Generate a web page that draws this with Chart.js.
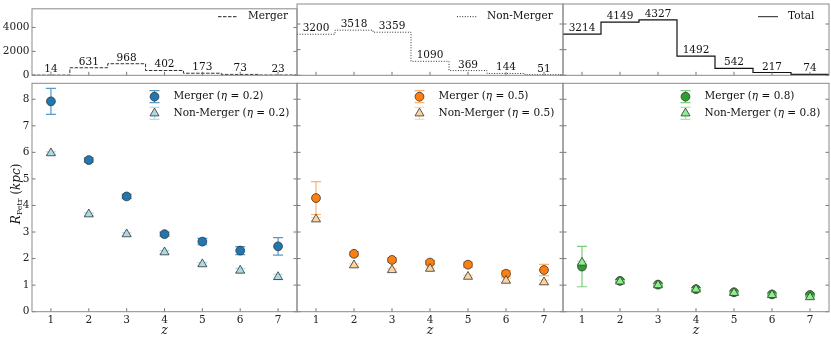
<!DOCTYPE html>
<html><head><meta charset="utf-8">
<script src="https://cdn.jsdelivr.net/npm/chart.js@4.4.0/dist/chart.umd.min.js"></script>
<style>
html,body{margin:0;padding:0;background:#fff;}
#wrap{position:relative;width:831px;height:341px;background:#fff;}
canvas{position:absolute;left:0;top:0;}
</style></head><body><div id="wrap"></div>
<script>
// ---------- data ----------
const zValues=[1,2,3,4,5,6,7];
const mergerCounts=[14,631,968,402,173,73,23];
const nonMergerCounts=[3200,3518,3359,1090,369,144,51];
const totalCounts=[3214,4149,4327,1492,542,217,74];
const countTicks=[0,2000,4000];
const radiusTicks=[0,1,2,3,4,5,6,7,8];
const histLabels=['Merger','Non-Merger','Total'];
const etaValues=['0.2','0.5','0.8'];

const mergerR02=[7.92,5.71,4.34,2.92,2.64,2.30,2.46];
const mergerErr02=[0.49,0.08,0.08,0.08,0.12,0.15,0.33];
const nonMergerR02=[5.97,3.67,2.92,2.24,1.79,1.55,1.31];
const nonMergerErr02=[0.05,0.05,0.05,0.06,0.06,0.08,0.10];

const mergerR05=[4.28,2.18,1.95,1.85,1.77,1.43,1.57];
const mergerErr05=[0.62,0.08,0.08,0.08,0.10,0.12,0.21];
const nonMergerR05=[3.48,1.75,1.57,1.62,1.32,1.17,1.11];
const nonMergerErr05=[0.06,0.05,0.05,0.05,0.06,0.07,0.08];

const mergerR08=[1.70,1.16,1.02,0.85,0.73,0.65,0.63];
const mergerErr08=[0.76,0.05,0.05,0.05,0.05,0.05,0.06];
const nonMergerR08=[1.85,1.14,1.00,0.84,0.71,0.63,0.55];
const nonMergerErr08=[0.05,0.03,0.03,0.03,0.03,0.03,0.04];

// ---------- layout / style ----------
const W=831,H=341;
const colLeft=[32,297,563], colRight=[297,563,829];
const topRow={top:4,bottom:75.3}, botRow={top:83.3,bottom:311.7};
const FONT='DejaVu Serif';
const FS=10.5;
const mainColors=['#1f77b4','#ff7f0e','#2ca02c'];
const lightColors=['#add8e6','#fdd5a2','#90ee90'];
const errMainColors=['rgba(31,119,180,0.75)','rgba(255,127,14,0.6)','rgba(110,200,110,0.9)'];
const errLightColors=['rgba(173,216,230,0.9)','rgba(253,213,162,0.9)','rgba(144,238,144,0.9)'];
const histDash=[[3.5,1.5],[1,1.6],[]];

const wrap=document.getElementById('wrap');
function newCanvas(){const c=document.createElement('canvas');c.width=W;c.height=H;c.style.width=W+'px';c.style.height=H+'px';wrap.appendChild(c);return c;}

function drawParts(ctx,parts,x,y,align){
  let total=0;
  parts.forEach(p=>{ctx.font=(p.italic?'italic ':'')+(p.size||FS)+'px "'+FONT+'"';p.w=ctx.measureText(p.t).width;total+=p.w;});
  let cx=align==='center'?x-total/2:x;
  ctx.textAlign='left';
  parts.forEach(p=>{ctx.font=(p.italic?'italic ':'')+(p.size||FS)+'px "'+FONT+'"';ctx.fillText(p.t,cx,y+(p.dy||0));cx+=p.w;});
}

function baseOptions(col,row,xLabels,yLabels,yMin,yMax,yTickVals){
  const yW=yLabels?colLeft[col]:0;
  const xH=xLabels?H-row.bottom:0;
  return {
    responsive:false,animation:false,devicePixelRatio:1,events:[],
    layout:{autoPadding:false,padding:{left:colLeft[col]-yW,right:W-colRight[col],top:row.top,bottom:H-row.bottom-xH}},
    plugins:{legend:{display:false},tooltip:{enabled:false}},
    scales:{
      x:{type:'linear',min:0.5,max:7.5,grid:{display:false,drawTicks:false},border:{display:false},
        ticks:{display:xLabels,font:{family:FONT,size:FS},color:'#222',padding:2,maxRotation:0,autoSkip:false,callback:v=>String(v)},
        afterBuildTicks:s=>{s.ticks=zValues.map(v=>({value:v}));},
        afterFit:s=>{s.height=xH;}},
      y:{type:'linear',min:yMin,max:yMax,grid:{display:false,drawTicks:false},border:{display:false},
        ticks:{display:yLabels,font:{family:FONT,size:FS},color:'#222',padding:2.5,autoSkip:false,callback:v=>String(v)},
        afterBuildTicks:s=>{s.ticks=yTickVals.map(v=>({value:v}));},
        afterFit:s=>{s.width=yW;}}
    }
  };
}

const framePlugin={id:'frame',afterDatasetsDraw(chart){
  const ctx=chart.ctx,ca=chart.chartArea,xs=chart.scales.x,ys=chart.scales.y;
  ctx.save();
  ctx.strokeStyle='#555';ctx.lineWidth=0.8;ctx.beginPath();
  xs.ticks.forEach(t=>{const px=xs.getPixelForValue(t.value);ctx.moveTo(px,ca.bottom);ctx.lineTo(px,ca.bottom-3.5);});
  ys.ticks.forEach(t=>{const py=ys.getPixelForValue(t.value);ctx.moveTo(ca.left,py);ctx.lineTo(ca.left+3.5,py);ctx.moveTo(ca.right,py);ctx.lineTo(ca.right-3.5,py);});
  ctx.stroke();
  ctx.strokeStyle='#8a8a8a';ctx.lineWidth=1;
  ctx.strokeRect(ca.left,ca.top,ca.right-ca.left,ca.bottom-ca.top);
  ctx.restore();
}};

// ---------- top histograms ----------
const histSets=[mergerCounts,nonMergerCounts,totalCounts];
const histLegendTextX=[248,487,788];
histSets.forEach((counts,col)=>{
  const data=zValues.map((z,i)=>({x:z-0.5,y:counts[i]})).concat([{x:zValues[zValues.length-1]+0.5,y:counts[counts.length-1]}]);
  const opts=baseOptions(col,topRow,false,col===0,0,5560,countTicks);
  const annot={id:'annot'+col,afterDatasetsDraw(chart){
    const ctx=chart.ctx,xs=chart.scales.x,ys=chart.scales.y;
    ctx.save();ctx.fillStyle='#111';ctx.font=FS+'px "'+FONT+'"';ctx.textAlign='center';ctx.textBaseline='alphabetic';
    counts.forEach((c,i)=>{ctx.fillText(String(c),xs.getPixelForValue(zValues[i]),ys.getPixelForValue(c)-3);});
    // legend
    const tx=histLegendTextX[col],ty=16.7;
    ctx.strokeStyle='#222';ctx.lineWidth=1;ctx.setLineDash(histDash[col]);
    ctx.beginPath();ctx.moveTo(tx-30,ty);ctx.lineTo(tx-10,ty);ctx.stroke();ctx.setLineDash([]);
    ctx.textAlign='left';ctx.textBaseline='middle';ctx.fillText(histLabels[col],tx,ty);
    ctx.restore();
  }};
  new Chart(newCanvas(),{type:'line',data:{datasets:[{data,stepped:'before',borderColor:col===2?'#111':'#333',borderWidth:col===2?1.2:1,
    borderDash:histDash[col],pointRadius:0,fill:false}]},options:opts,plugins:[framePlugin,annot]});
});

// ---------- bottom scatter panels ----------
const mergerR=[mergerR02,mergerR05,mergerR08], mergerErr=[mergerErr02,mergerErr05,mergerErr08];
const nonMergerR=[nonMergerR02,nonMergerR05,nonMergerR08], nonMergerErr=[nonMergerErr02,nonMergerErr05,nonMergerErr08];

function drawMarker(ctx,style,x,y,r,fill){
  ctx.beginPath();
  if(style==='circle'){ctx.arc(x,y,r,0,Math.PI*2);}
  else{for(let k=0;k<3;k++){const a=k*2*Math.PI/3;const px=x+Math.sin(a)*r,py=y-Math.cos(a)*r;k?ctx.lineTo(px,py):ctx.moveTo(px,py);}ctx.closePath();}
  ctx.fillStyle=fill;ctx.fill();ctx.strokeStyle='#333';ctx.lineWidth=0.8;ctx.stroke();
}

const errPlugin={id:'err',beforeDatasetDraw(chart,args){
  const ds=chart.data.datasets[args.index];if(!ds.errors)return;
  const ctx=chart.ctx,xs=chart.scales.x,ys=chart.scales.y;
  ctx.save();ctx.strokeStyle=ds.errColor;ctx.lineWidth=1.2;ctx.beginPath();
  ds.data.forEach((p,i)=>{const px=xs.getPixelForValue(p.x),y1=ys.getPixelForValue(p.y+ds.errors[i]),y2=ys.getPixelForValue(p.y-ds.errors[i]);
    ctx.moveTo(px,y1);ctx.lineTo(px,y2);ctx.moveTo(px-5,y1);ctx.lineTo(px+5,y1);ctx.moveTo(px-5,y2);ctx.lineTo(px+5,y2);});
  ctx.stroke();ctx.restore();
}};

[0,1,2].forEach(col=>{
  const opts=baseOptions(col,botRow,true,col===0,0,8.6,radiusTicks);
  const datasets=[
    {label:'Merger',data:zValues.map((z,i)=>({x:z,y:mergerR[col][i]})),errors:mergerErr[col],errColor:errMainColors[col],
     pointStyle:'circle',pointRadius:4.4,backgroundColor:mainColors[col],borderColor:'#333',borderWidth:0.8,showLine:false,order:2},
    {label:'Non-Merger',data:zValues.map((z,i)=>({x:z,y:nonMergerR[col][i]})),errors:nonMergerErr[col],errColor:errLightColors[col],
     pointStyle:'triangle',pointRadius:5.2,backgroundColor:lightColors[col],borderColor:'#333',borderWidth:0.8,showLine:false,order:1}
  ];
  const extra={id:'extra'+col,afterDraw(chart){
    const ctx=chart.ctx,ca=chart.chartArea;
    ctx.save();ctx.fillStyle='#111';ctx.textBaseline='middle';
    const tx=ca.left+141.5, mx=tx-19, ys=[96.7,113.3];
    datasets.forEach((ds,k)=>{
      const y=ys[k];
      ctx.strokeStyle=ds.errColor;ctx.lineWidth=1.2;ctx.beginPath();
      ctx.moveTo(mx,y-6);ctx.lineTo(mx,y+6);ctx.moveTo(mx-5,y-6);ctx.lineTo(mx+5,y-6);ctx.moveTo(mx-5,y+6);ctx.lineTo(mx+5,y+6);ctx.stroke();
      drawMarker(ctx,ds.pointStyle,mx,y,ds.pointRadius,ds.backgroundColor);
      ctx.fillStyle='#111';
      drawParts(ctx,[{t:ds.label+' ('},{t:'η',italic:true},{t:' = '+etaValues[col]+')'}],tx,y,'left');
    });
    ctx.textBaseline='alphabetic';
    drawParts(ctx,[{t:'z',italic:true,size:12.5}],(ca.left+ca.right)/2,333.5,'center');
    if(col===0){
      ctx.translate(15.5,194);ctx.rotate(-Math.PI/2);
      drawParts(ctx,[{t:'R',italic:true,size:12},{t:'Petr',size:8,dy:2.2},{t:' (',size:12},{t:'kpc',italic:true,size:12},{t:')',size:12}],0,4.5,'center');
    }
    ctx.restore();
  }};
  new Chart(newCanvas(),{type:'scatter',data:{datasets},options:opts,plugins:[errPlugin,framePlugin,extra]});
});
</script></body></html>
